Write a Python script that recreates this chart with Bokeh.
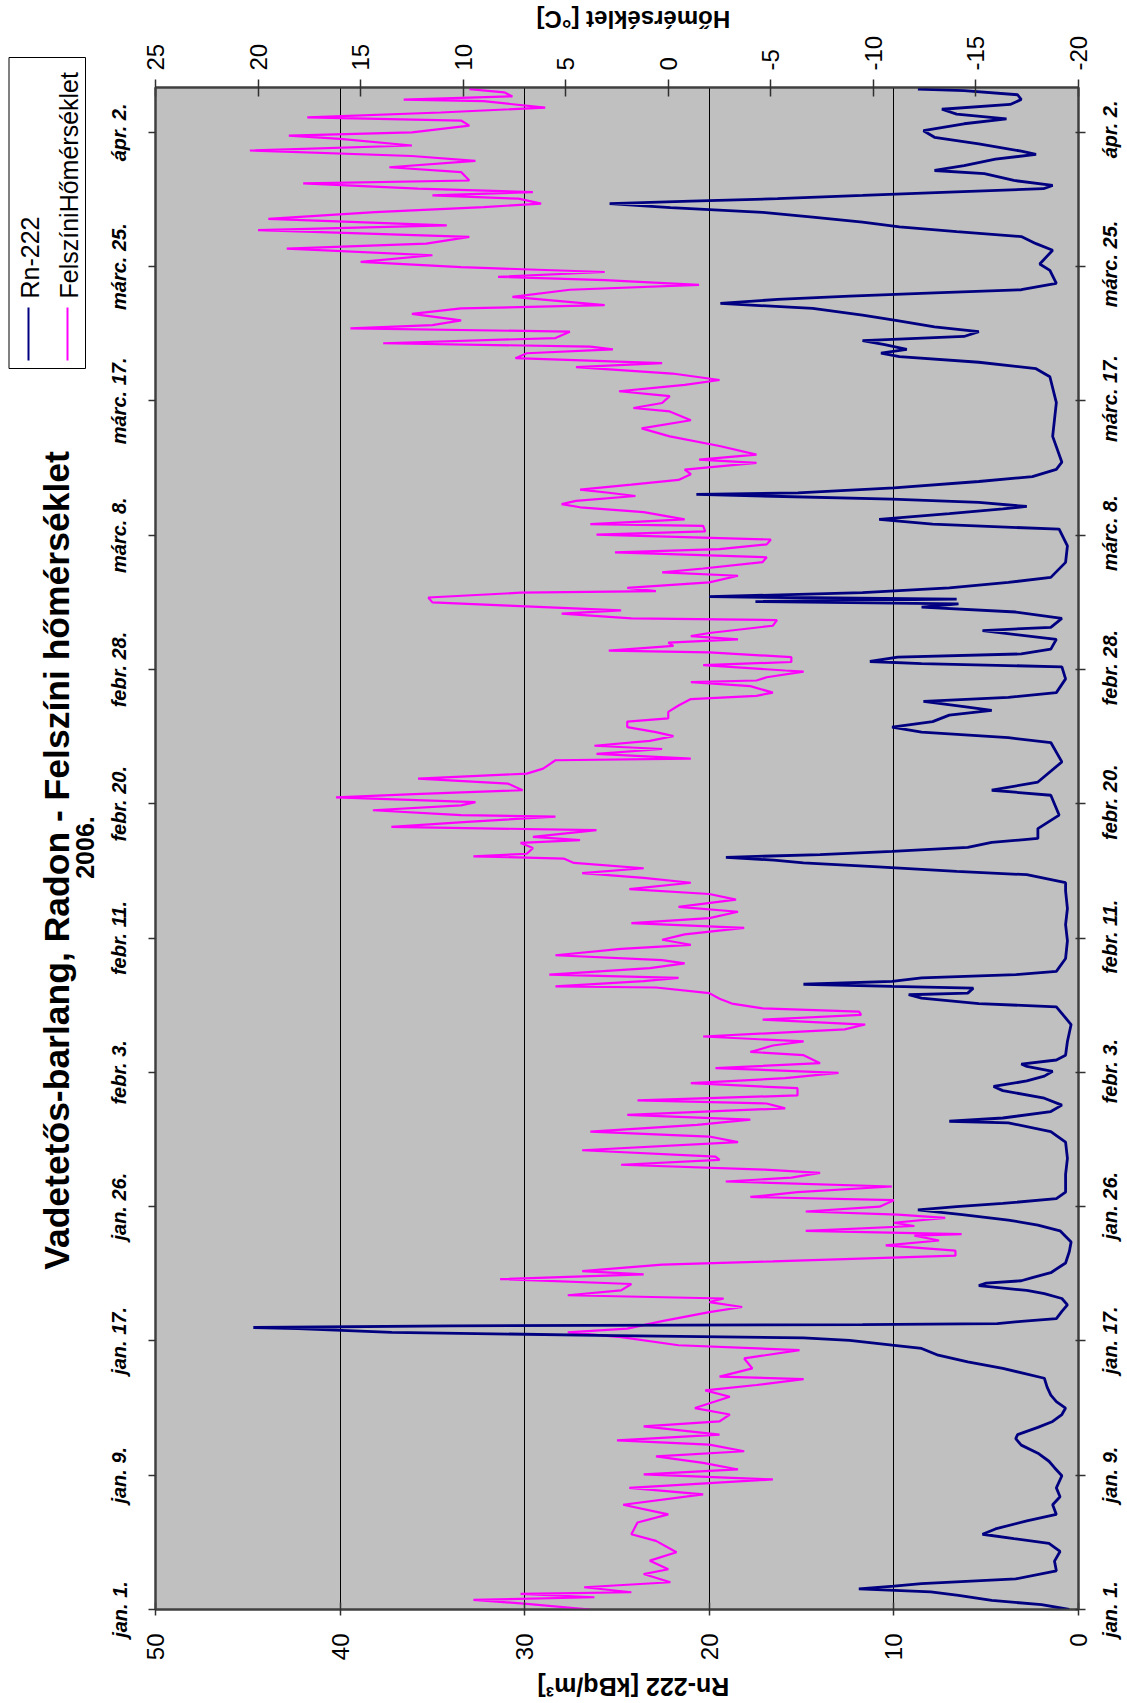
import math
from bokeh.plotting import figure
from bokeh.layouts import row, column
from bokeh.models import Range1d, LinearAxis, FixedTicker
from bokeh.core.properties import value
from bokeh.embed import file_html
from bokeh.resources import INLINE

FONT = "Liberation Sans"

# ---- data (day counted from jan. 1, 2006) ----
rn_day = [0.0, 0.3, 0.56, 0.87, 1.1, 1.28, 1.45, 1.6, 1.9, 2.4, 3.0, 3.6, 4.1, 4.4, 4.67, 5.0, 5.5, 5.9,
          6.5, 7.0, 7.55, 8.3, 8.8, 9.2, 9.7, 10.2, 10.6, 10.85, 11.3, 11.67, 12.1, 12.5, 12.9, 13.3,
          13.8, 14.35, 14.96, 15.37, 15.78, 16.2, 16.4, 16.7, 16.85, 17.0, 17.2, 17.43, 17.5, 17.6,
          17.68, 17.74, 17.88, 18.05, 18.5, 18.9, 19.3, 19.6, 19.8, 20.1, 20.25, 20.4, 20.6, 20.9,
          21.5, 22.2, 22.8, 23.5, 23.85, 24.17, 24.5, 24.8, 25.0, 25.2, 25.5, 25.9, 27.0, 28.0, 29.0,
          29.66, 30.2, 30.3, 30.5, 30.9, 31.3, 31.73, 32.2, 32.46, 32.8, 33.1, 33.4, 33.7, 33.85,
          34.1, 34.4, 35.25, 36.3, 37.4, 37.6, 37.94, 38.15, 38.25, 38.56, 38.67, 38.8, 38.98, 39.2,
          39.4, 39.6, 40.4, 41.5, 42.5, 43.5, 44.6, 45.1, 45.6, 45.8, 46.1, 46.33, 46.5, 46.68,
          46.85, 47.05, 47.3, 47.6, 47.85, 48.46, 49.3, 50.53, 50.84, 51.35, 52.6, 53.8, 54.1,
          54.45, 54.76, 55.1, 55.5, 55.8, 56.0, 56.35, 56.6, 56.9, 57.75, 58.5, 58.7, 58.83, 59.1,
          59.3, 59.6, 60.2, 60.75, 60.95, 61.5, 61.9, 62.2, 62.4, 62.55, 62.7, 62.85, 63.1, 63.4,
          63.74, 64.05, 64.98, 66.0, 67.04, 67.35, 67.65, 68.0, 68.3, 68.45, 68.7, 68.9, 69.2,
          69.3, 69.6, 70.0, 70.3, 70.75, 71.2, 72.8, 74.9, 76.5, 77.0, 77.4, 77.75, 77.96, 78.2,
          78.5, 78.74, 79.0, 79.3, 79.6, 80.0, 80.33, 80.74, 81.05, 81.3, 81.5, 81.7, 81.9, 82.3,
          83.1, 83.5, 84.35, 84.76, 85.2, 85.5, 85.8, 86.1, 86.4, 86.7, 87.0, 87.24, 87.4, 87.55,
          87.75, 87.96, 88.17, 88.37, 88.68, 89.1, 89.3, 89.6, 90.0, 90.3, 90.5, 90.95, 91.36,
          91.77, 92.2, 92.5, 92.8, 93.1, 93.4, 93.7, 94.0, 94.25, 94.35]
rn_val = [0.5, 2.0, 4.7, 6.5, 8.0, 11.9, 10.0, 8.5, 3.4, 1.2, 1.3, 1.0, 1.6, 3.5, 5.2, 4.5, 2.8, 1.2,
          1.4, 1.0, 1.2, 0.9, 1.3, 1.6, 2.2, 3.1, 3.4, 3.3, 2.2, 1.4, 0.9, 0.7, 1.2, 1.5,
          1.7, 1.85, 4.1, 6.0, 7.6, 8.5, 10.1, 12.4, 14.9, 25.1, 37.2, 42.3, 44.7, 34.0,
          11.7, 4.4, 3.1, 1.2, 0.9, 0.6, 0.9, 1.85, 2.8, 5.4, 5.0, 3.1, 2.5, 1.5,
          0.7, 0.5, 0.4, 1.0, 2.2, 3.8, 6.3, 8.7, 6.6, 4.1, 1.2, 0.7, 0.7, 0.6, 0.7,
          1.5, 3.8, 7.0, 4.1, 1.5, 0.9, 1.85, 4.1, 4.6, 2.8, 1.85, 1.4, 2.8, 3.1,
          1.2, 0.7, 0.6, 0.4, 1.2, 5.4, 8.5, 9.2, 6.0, 5.7, 10.1, 14.9, 10.1, 8.5,
          3.4, 1.2, 0.7, 0.6, 0.7, 0.6, 0.7, 0.7, 2.8, 6.6, 11.1, 14.9, 16.5, 19.1,
          14.0, 10.1, 6.0, 4.7, 2.2, 2.2, 1.05, 1.5, 4.7, 2.2, 0.9, 1.5, 3.8,
          8.5, 10.1, 7.9, 7.0, 4.7, 6.0, 8.4, 3.8, 1.2, 0.7, 0.9, 8.5, 11.3, 9.8,
          3.1, 1.5, 1.2, 5.2, 1.5, 0.9, 3.4, 8.5, 6.5, 17.5, 6.6, 20.0, 11.7, 7.0,
          3.8, 1.5, 0.7, 0.6, 1.05, 7.9, 10.8, 7.0, 4.1, 2.8, 5.4, 10.1, 20.7,
          15.2, 10.0, 5.4, 2.5, 1.2, 0.9, 1.4, 1.2, 1.55, 2.3, 5.4, 9.7, 10.7, 9.3,
          10.5, 11.7, 6.2, 5.4, 7.8, 9.9, 11.7, 14.4, 19.4, 16.3, 12.4, 7.8, 3.1, 1.2,
          1.55, 2.1, 1.4, 2.3, 3.1, 6.6, 9.7, 11.7, 14.4, 17.1, 22.1, 25.4, 21.0, 16.3,
          11.7, 7.0, 1.9, 1.4, 3.5, 5.1, 7.8, 6.2, 4.5, 2.3, 3.1, 5.4, 7.8,
          8.4, 6.2, 3.9, 6.6, 7.4, 3.7, 3.1, 3.3, 6.2, 8.7]

temp_day = [0.0, 0.35, 0.6, 0.76, 0.97, 1.07, 1.38, 1.69, 2.2, 2.5, 3.03, 3.55, 4.26, 4.67, 5.4, 5.9,
            6.5, 7.14, 7.55, 8.07, 8.38, 8.69, 9.1, 9.5, 9.82, 10.23, 10.5, 10.85, 11.36, 11.67,
            12.1, 12.5, 13.2, 13.6, 13.93, 14.3, 14.45, 14.96, 15.58, 16.1, 16.4, 16.9, 17.2, 17.43,
            17.9, 18.45, 18.77, 19.08, 19.3, 19.5, 19.8, 20.2, 20.5, 20.8, 21.0, 21.4, 21.6, 21.96,
            22.27, 22.6, 22.9, 23.2, 23.3, 23.5, 23.8, 24.0, 24.3, 24.5, 24.7, 25.0, 25.4, 25.6,
            25.9, 26.25, 26.56, 26.8, 27.1, 27.3, 27.6, 27.9, 28.1, 28.5, 29.0, 29.35, 29.66, 30.07,
            30.4, 30.7, 31.1, 31.4, 31.6, 31.9, 32.35, 32.66, 32.97, 33.3, 33.6, 33.9, 34.4, 34.6,
            35.0, 35.25, 35.56, 36.0, 36.3, 36.6, 36.9, 37.1, 37.3, 37.6, 37.9, 38.25, 38.6, 38.67,
            39.0, 39.2, 39.4, 39.8, 40.1, 40.3, 40.6, 41.0, 41.25, 41.56, 41.9, 42.3, 42.6, 42.9,
            43.3, 43.6, 44.05, 44.4, 44.7, 45.1, 45.4, 45.7, 46.0, 46.33, 46.6, 46.74, 46.9, 47.25,
            47.57, 47.75, 47.95, 48.36, 48.57, 48.88, 49.2, 49.3, 49.6, 49.9, 50.1, 50.4, 50.6,
            50.84, 51.25, 51.56, 51.87, 52.18, 52.7, 52.8, 53.1, 53.4, 53.6, 53.9, 54.2, 54.45,
            54.76, 55.1, 55.3, 55.7, 56.1, 56.5, 56.7, 56.9, 57.3, 57.55, 57.65, 57.85, 58.2, 58.27,
            58.6, 58.8, 59.1, 59.4, 59.5, 59.8, 60.0, 60.2, 60.4, 60.6, 61.05, 61.4, 61.5, 61.8,
            62.0, 62.3, 62.5, 62.8, 63.1, 63.2, 63.4, 63.74, 64.15, 64.36, 64.6, 65.0, 65.3, 65.6,
            65.8, 66.1, 66.4, 66.7, 66.9, 67.25, 67.35, 67.65, 68.1, 68.4, 68.6, 68.8, 69.1, 69.3,
            69.5, 69.8, 70.1, 70.45, 70.74, 71.15, 71.36, 71.67, 72.2, 72.8, 73.3, 73.8, 74.35,
            74.56, 74.87, 75.3, 75.6, 76.0, 76.3, 76.7, 77.1, 77.34, 77.65, 77.96, 78.2, 78.37,
            78.58, 78.9, 79.3, 79.5, 79.7, 80.0, 80.4, 80.74, 80.95, 81.46, 81.9, 82.2, 82.5, 82.7,
            83.0, 83.3, 83.63, 84.04, 84.45, 84.76, 85.18, 85.6, 85.9, 86.3, 86.72, 87.03, 87.24,
            87.55, 87.75, 87.96, 88.17, 88.5, 88.68, 89.2, 89.5, 89.9, 90.2, 90.54, 90.85, 91.26,
            91.46, 91.67, 92.08, 92.4, 92.6, 92.9, 93.2, 93.6, 93.7, 93.9, 94.15, 94.35]
temp_val = [3.8, 6.9, 9.5, 3.6, 7.2, 1.8, 4.1, -0.1, 1.2, 0.0, 0.9, -0.4, 0.6, 1.8, 1.5, 0.0,
            2.2, -1.7, 1.9, -5.1, 1.2, -3.4, -1.7, 0.6, -3.7, -2.0, 2.5, -2.5, 1.2, -2.5,
            -3.0, -1.3, -3.0, -1.8, -4.3, -6.6, -2.5, -4.1, -3.7, -6.4, -0.5, 2.3, 4.9, 2.0,
            0.3, -2.0, -3.6, -2.0, -2.7, 4.9, 2.3, 1.8, 8.2, 1.2, 4.2, 0.3, -5.1, -14.0,
            -14.0, -10.6, -13.2, -12.0, -14.3, -6.7, -12.0, -11.0, -13.5, -11.2, -6.7, -10.3, -11.0, -4.0,
            -6.3, -10.9, -2.8, -6.0, -7.4, -4.7, 2.3, -2.5, -2.3, 4.2, -3.4, -2.0, 3.8, -1.4,
            -4.0, 2.0, -5.7, -4.8, 1.5, -6.3, -6.3, -1.1, -5.7, -8.3, -2.3, -7.4, -6.6, -4.0,
            -5.1, -6.6, -1.7, -8.6, -9.6, -4.6, -9.4, -9.3, -4.6, -3.1, -2.5, -2.0, 0.6, 5.5,
            1.2, -0.5, 5.8, 0.9, -0.8, 0.3, 5.5, 2.3, -1.1, 0.3, -0.8, -3.7, 1.8, -2.0,
            -3.4, -0.5, -3.3, -2.0, 1.9, -1.1, 1.2, 4.2, 1.2, 4.6, 5.1, 9.5, 6.9, 6.6,
            7.2, 4.3, 6.6, 3.5, 13.5, 9.8, 5.5, 10.1, 14.4, 10.1, 9.4, 16.2, 12.4,
            7.1, 7.8, 12.2, 6.9, 6.1, 5.5, -1.1, 3.5, 0.3, 3.6, 0.9, -0.25, 0.6,
            2.0, 2.0, 0.0, 0.0, -0.5, -1.1, -4.3, -5.1, -4.0, -1.1, -4.3, -4.8, -6.6, -5.7,
            -1.7, -6.0, -6.0, -2.0, 2.9, -0.25, 0.0, -3.4, -1.1, -2.0, -5.1, -5.3, 1.8, 5.2,
            2.3, 7.8, 11.5, 11.7, 7.2, 0.6, 2.0, -2.0, -3.4, 0.3, -1.7, -4.6, -4.8, 2.6,
            -2.5, -4.8, -5.0, 3.5, -1.8, -1.7, 3.8, -0.8, 1.2, 4.3, 5.2, 4.5, 1.6, 2.9,
            4.3, 1.8, -0.5, -1.1, -0.8, -4.3, -1.5, -4.3, -2.5, -0.07, 1.3, -1.1, -0.07,
            1.7, 0.3, -0.07, 2.4, -0.8, -2.5, -0.2, 4.5, 0.3, 7.45, 6.9, 2.7, 3.8,
            13.9, 5.5, 4.8, 15.5, 11.5, 10.1, 12.5, 10.1, 3.1, 7.6, 4.8, -1.5, 3.1, 8.3,
            3.1, 10.1, 15.0, 11.5, 18.6, 11.8, 9.7, 20.0, 10.8, 19.5, 14.3, 9.0, 6.2,
            7.3, 11.5, 6.6, 12.2, 17.8, 9.7, 10.1, 13.6, 9.4, 12.5, 20.4, 12.5, 16.0,
            18.5, 12.5, 9.7, 10.1, 17.6, 11.1, 6.0, 9.0, 12.9, 7.6, 8.0, 9.7]

date_ticks = [k * 25.0 / 3.0 for k in range(12)]
date_labels = ["jan. 1.", "jan. 9.", "jan. 17.", "jan. 26.", "febr. 3.", "febr. 11.",
               "febr. 20.", "febr. 28.", "márc. 8.", "márc. 17.", "márc. 25.", "ápr. 2."]
rn_ticks = [0, 10, 20, 30, 40, 50]
temp_ticks = [-20, -15, -10, -5, 0, 5, 10, 15, 20, 25]

TITLE = "Vadetetős-barlang, Radon - Felszíni hőmérséklet"
SUBTITLE = "2006."
RN_NAME = "Rn-222"
T_NAME = "FelszíniHőmérséklet"
RN_LABEL = "Rn-222 [kBq/m³]"
T_LABEL = "Hőmérséklet [°C]"

RN_COLOR = "#000080"
T_COLOR = "#FF00FF"

# ---- layout geometry (pixels, page origin at top-left) ----
TOTAL_W, TOTAL_H = 1125, 1701
MAIN_L, FRAME_W, MAIN_R = 49, 924, 14
FRAME_X0 = 154                       # left edge of the plot frame on the page
LEFT_W = FRAME_X0 - MAIN_L
MAIN_W = MAIN_L + FRAME_W + MAIN_R
RIGHT_W = TOTAL_W - LEFT_W - MAIN_W
MAIN_T, FRAME_H, MAIN_B = 52, 1525, 58
FRAME_Y0 = 84                        # top edge of the plot frame on the page
TOP_H = FRAME_Y0 - MAIN_T
MAIN_H = MAIN_T + FRAME_H + MAIN_B
BOTTOM_H = TOTAL_H - TOP_H - MAIN_H
DAY_MAX = 94.45


def blank(w, h, y_range=None):
    return figure(width=w, height=h, output_backend="svg", toolbar_location=None,
                  x_axis_type=None, y_axis_type=None, min_border=0,
                  x_range=Range1d(0, w), y_range=y_range if y_range is not None else Range1d(0, h),
                  background_fill_color="white", border_fill_color="white",
                  outline_line_color=None)


def txt(f, x, y, s, size, style="normal", angle=0.0, align="center", baseline="middle"):
    f.text(x=x if isinstance(x, list) else [x], y=y if isinstance(y, list) else [y],
           text=s if isinstance(s, list) else [s], angle=angle,
           text_align=align, text_baseline=baseline, text_font=value(FONT),
           text_font_size=size, text_font_style=style, text_color="black")


# ---- main plot ----
p = figure(width=MAIN_W, height=MAIN_H, output_backend="svg", toolbar_location=None,
           x_range=Range1d(50, 0), y_range=Range1d(0, DAY_MAX),
           min_border_left=MAIN_L, min_border_right=MAIN_R,
           min_border_top=MAIN_T, min_border_bottom=MAIN_B,
           background_fill_color="#C0C0C0", border_fill_color="white",
           outline_line_color="#404040", outline_line_width=2)
p.extra_x_ranges = {"temp": Range1d(25, -20)}

p.xgrid.ticker = FixedTicker(ticks=[10, 20, 30, 40])
p.xgrid.grid_line_color = "black"
p.xgrid.grid_line_width = 1
p.ygrid.grid_line_color = None

p.line(x=temp_val, y=temp_day, x_range_name="temp", line_color=T_COLOR, line_width=2.2)
p.line(x=rn_val, y=rn_day, line_color=RN_COLOR, line_width=2.8)


def style_axis(ax):
    ax.axis_line_color = "#404040"
    ax.axis_line_width = 2
    ax.major_tick_line_color = "#303030"
    ax.major_tick_line_width = 1.5
    ax.minor_tick_in = 0
    ax.minor_tick_out = 0
    ax.major_label_text_font = FONT
    ax.major_label_text_color = "black"


xa = p.xaxis[0]
style_axis(xa)
xa.ticker = FixedTicker(ticks=rn_ticks)
xa.major_label_orientation = math.pi / 2
xa.major_label_text_font_size = "24px"
xa.major_label_standoff = 18
xa.major_tick_in = 7
xa.major_tick_out = 6

ta = LinearAxis(x_range_name="temp", ticker=FixedTicker(ticks=temp_ticks))
style_axis(ta)
ta.major_label_overrides = {t: str(t) for t in temp_ticks}
ta.major_label_orientation = math.pi / 2
ta.major_label_text_font_size = "24px"
ta.major_label_standoff = 9
ta.major_tick_in = 9
ta.major_tick_out = 8
p.add_layout(ta, "above")

ya = p.yaxis[0]
style_axis(ya)
ya.ticker = FixedTicker(ticks=date_ticks)
ya.major_label_overrides = dict(zip(date_ticks, date_labels))
ya.major_label_orientation = "vertical"
ya.major_label_text_font_size = "20px"
ya.major_label_text_font_style = "bold italic"
ya.major_label_standoff = 18
ya.major_tick_in = 0
ya.major_tick_out = 7

ra = LinearAxis(ticker=FixedTicker(ticks=date_ticks))
style_axis(ra)
ra.major_label_text_color = None
ra.major_tick_in = 3
ra.major_tick_out = 7
p.add_layout(ra, "right")

# ---- top strip: temperature axis title (upside down, as in the reference) ----
top_fig = blank(MAIN_W, TOP_H)
txt(top_fig, MAIN_L + FRAME_W / 2, TOP_H - 19, T_LABEL, "24px", "bold", angle=math.pi)

# ---- bottom strip: Rn axis title (upside down) ----
bottom_fig = blank(MAIN_W, BOTTOM_H)
txt(bottom_fig, MAIN_L + FRAME_W / 2, BOTTOM_H - 19, RN_LABEL, "25px", "bold", angle=math.pi)

# ---- right strip: date labels aligned with the main y scale ----
px_per_day = FRAME_H / DAY_MAX
frame_bot = FRAME_Y0 + FRAME_H
right_fig = blank(RIGHT_W, TOTAL_H,
                  y_range=Range1d(-(TOTAL_H - frame_bot) / px_per_day, DAY_MAX + FRAME_Y0 / px_per_day))
txt(right_fig, [1109 - (LEFT_W + MAIN_W)] * len(date_ticks), date_ticks, date_labels,
    "20px", "bold italic", angle=math.pi / 2)

# ---- left strip: title, subtitle and rotated legend ----
left_fig = blank(LEFT_W, TOTAL_H)


def yu(screen_y):
    return TOTAL_H - screen_y


txt(left_fig, 56.5, yu(860), TITLE, "35.5px", "bold", angle=math.pi / 2)
txt(left_fig, 84, yu(847), SUBTITLE, "25px", "bold", angle=math.pi / 2)
left_fig.quad(left=[8.5], right=[85], top=[yu(57)], bottom=[yu(368)],
              fill_color=None, line_color="black", line_width=1)
for lx, tx, col, name in [(28, 29, RN_COLOR, RN_NAME), (67, 68, T_COLOR, T_NAME)]:
    left_fig.segment(x0=[lx], y0=[yu(307)], x1=[lx], y1=[yu(360)], line_color=col, line_width=2)
    txt(left_fig, tx, yu(298), name, "25px", "normal", angle=math.pi / 2, align="left")

layout = row(left_fig, column(top_fig, p, bottom_fig), right_fig)

open("out.html", "w").write(file_html(layout, INLINE))
